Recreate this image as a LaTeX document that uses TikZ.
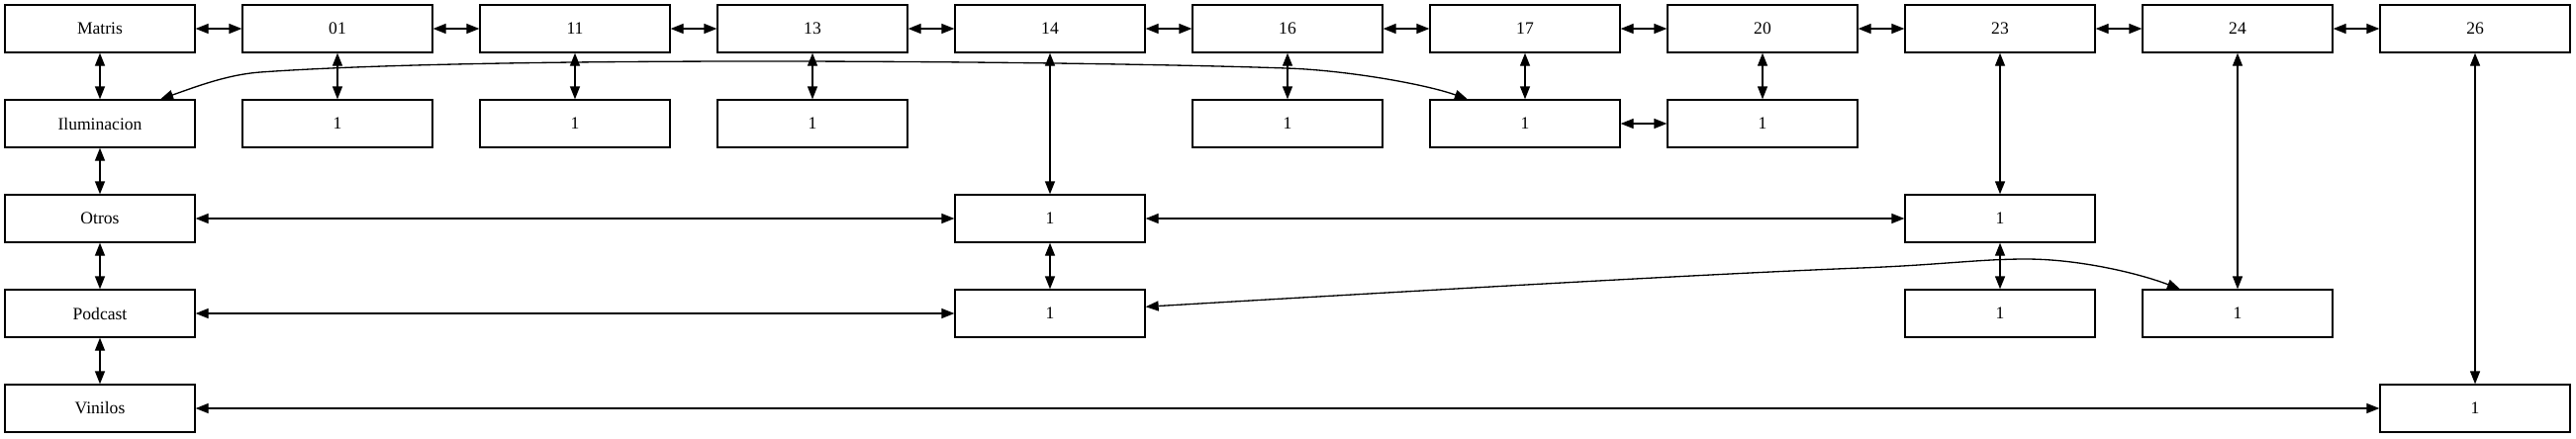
\documentclass[tikz,border=0pt]{standalone}
\usepackage{fontspec}
\setmainfont{Liberation Serif}
\usetikzlibrary{arrows.meta}

\begin{document}
\begin{tikzpicture}[
  x=0.2mm, y=-0.2mm,
  >={Triangle[length=2.6mm, width=2mm]},
  box/.style={rectangle, draw=black, line width=0.75pt, minimum width=38.4mm,
              minimum height=9.6mm, inner sep=0pt, font=\fontsize{10}{12}\selectfont},
  link/.style={<->, line width=0.75pt, black},
]
\useasboundingbox (0,0) rectangle (2603,443);

\node[box] (matris)  at (101,29)  {Matris};
\node[box] (ilum)    at (101,125) {Iluminacion};
\node[box] (otros)   at (101,221) {Otros};
\node[box] (podcast) at (101,317) {Podcast};
\node[box] (vinilos) at (101,413) {Vinilos};

\node[box] (n01) at (341,29)  {01};
\node[box] (n11) at (581,29)  {11};
\node[box] (n13) at (821,29)  {13};
\node[box] (n14) at (1061,29) {14};
\node[box] (n16) at (1301,29) {16};
\node[box] (n17) at (1541,29) {17};
\node[box] (n20) at (1781,29) {20};
\node[box] (n23) at (2021,29) {23};
\node[box] (n24) at (2261,29) {24};
\node[box] (n26) at (2501,29) {26};

\node[box] (c01)  at (341,125)  {1};
\node[box] (c11)  at (581,125)  {1};
\node[box] (c13)  at (821,125)  {1};
\node[box] (c16)  at (1301,125) {1};
\node[box] (c17)  at (1541,125) {1};
\node[box] (c20)  at (1781,125) {1};
\node[box] (c14)  at (1061,221) {1};
\node[box] (c23)  at (2021,221) {1};
\node[box] (c14b) at (1061,317) {1};
\node[box] (c23b) at (2021,317) {1};
\node[box] (c24)  at (2261,317) {1};
\node[box] (c26)  at (2501,413) {1};

\draw[link] (matris) -- (n01);
\draw[link] (n01) -- (n11);
\draw[link] (n11) -- (n13);
\draw[link] (n13) -- (n14);
\draw[link] (n14) -- (n16);
\draw[link] (n16) -- (n17);
\draw[link] (n17) -- (n20);
\draw[link] (n20) -- (n23);
\draw[link] (n23) -- (n24);
\draw[link] (n24) -- (n26);

\draw[link] (matris) -- (ilum);
\draw[link] (ilum) -- (otros);
\draw[link] (otros) -- (podcast);
\draw[link] (podcast) -- (vinilos);

\draw[link] (n01) -- (c01);
\draw[link] (n11) -- (c11);
\draw[link] (n13) -- (c13);
\draw[link] (n14) -- (c14);
\draw[link] (n16) -- (c16);
\draw[link] (n17) -- (c17);
\draw[link] (n20) -- (c20);
\draw[link] (n23) -- (c23);
\draw[link] (n24) -- (c24);
\draw[link] (n26) -- (c26);

\draw[link] (c17) -- (c20);
\draw[link] (otros) -- (c14);
\draw[link] (c14) -- (c23);
\draw[link] (c14) -- (c14b);
\draw[link] (podcast) -- (c14b);
\draw[link] (c23) -- (c23b);
\draw[link] (vinilos) -- (c26);

\draw[link] (ilum.22) .. controls (200,87) and (230,75.5) .. (263,73)
  .. controls (500,56) and (1100,62) .. (1300,69)
  .. controls (1360,71) and (1440,85) .. (c17.157);
\draw[link] (c14b.4) .. controls (1500,290) and (1750,276) .. (1880,271)
  .. controls (1960,268) and (2000,262) .. (2047,262)
  .. controls (2100,262) and (2160,276) .. (c24.157);
\end{tikzpicture}
\end{document}
